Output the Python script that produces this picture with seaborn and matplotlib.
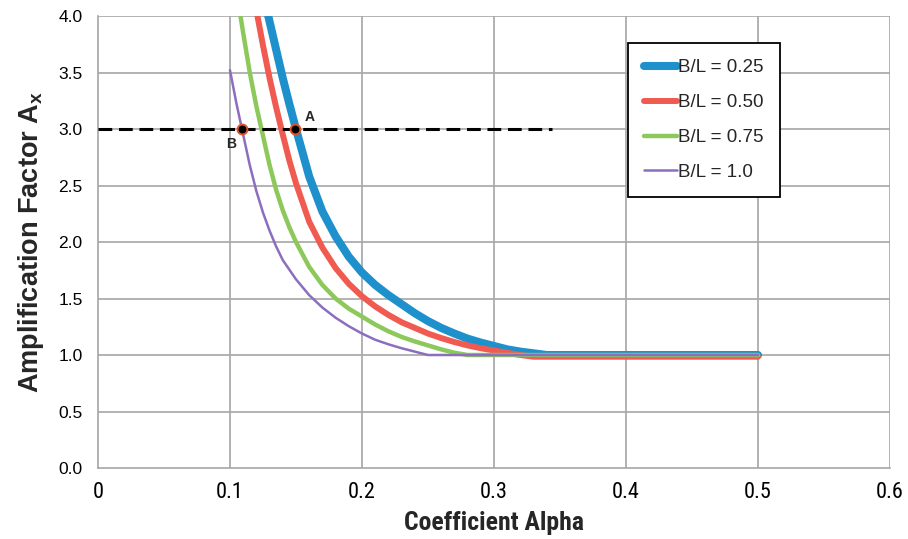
import matplotlib
matplotlib.use("Agg")
import matplotlib.pyplot as plt
import seaborn as sns
import pandas as pd

# Amplification factor vs. coefficient alpha for four B/L ratios
alpha_025 = [0.128, 0.135, 0.140, 0.145, 0.150, 0.160, 0.170, 0.180, 0.190, 0.200,
             0.210, 0.220, 0.230, 0.240, 0.250, 0.260, 0.270, 0.280, 0.290, 0.300,
             0.310, 0.320, 0.330, 0.340, 0.500]
amp_025 = [4.05, 3.70, 3.45, 3.22, 3.00, 2.58, 2.27, 2.05, 1.87, 1.73,
           1.62, 1.53, 1.45, 1.37, 1.30, 1.24, 1.19, 1.145, 1.11, 1.08,
           1.05, 1.03, 1.015, 1.00, 1.00]

alpha_050 = [0.120, 0.125, 0.130, 0.135, 0.140, 0.145, 0.150, 0.160, 0.170, 0.180,
             0.190, 0.200, 0.210, 0.220, 0.230, 0.240, 0.250, 0.260, 0.270, 0.280,
             0.290, 0.300, 0.310, 0.320, 0.330, 0.500]
amp_050 = [4.05, 3.74, 3.45, 3.19, 2.95, 2.72, 2.52, 2.18, 1.95, 1.77,
           1.63, 1.52, 1.43, 1.355, 1.29, 1.24, 1.19, 1.15, 1.115, 1.085,
           1.06, 1.04, 1.02, 1.00, 0.985, 0.985]

alpha_075 = [0.107, 0.110, 0.115, 0.120, 0.125, 0.130, 0.135, 0.140, 0.145, 0.150,
             0.160, 0.170, 0.180, 0.190, 0.200, 0.210, 0.220, 0.230, 0.240, 0.250,
             0.260, 0.270, 0.280, 0.500]
amp_075 = [4.07, 3.85, 3.50, 3.20, 2.94, 2.68, 2.46, 2.28, 2.13, 2.00,
           1.78, 1.62, 1.50, 1.41, 1.34, 1.27, 1.21, 1.16, 1.12, 1.085,
           1.05, 1.02, 1.00, 1.00]

alpha_100 = [0.100, 0.105, 0.110, 0.115, 0.120, 0.125, 0.130, 0.135, 0.140, 0.150,
             0.160, 0.170, 0.180, 0.190, 0.200, 0.210, 0.220, 0.230, 0.240, 0.250,
             0.500]
amp_100 = [3.52, 3.22, 2.95, 2.68, 2.45, 2.26, 2.10, 1.96, 1.84, 1.67,
           1.53, 1.42, 1.33, 1.255, 1.19, 1.135, 1.095, 1.06, 1.03, 1.00,
           1.00]

series_labels = ["B/L = 0.25", "B/L = 0.50", "B/L = 0.75", "B/L = 1.0"]
series_colors = ["#1E90CC", "#F05A50", "#8CC85A", "#8C6EBE"]
series_widths = [5.8, 4.3, 3.2, 1.8]

# Design level and the two read-off points
design_level = 3.0
design_alpha_range = [0.0, 0.344]
point_labels = ["A", "B"]
point_alpha = [0.149, 0.109]

xticks = [0, 0.1, 0.2, 0.3, 0.4, 0.5, 0.6]
xtick_labels = ["0", "0.1", "0.2", "0.3", "0.4", "0.5", "0.6"]
yticks = [0.0, 0.5, 1.0, 1.5, 2.0, 2.5, 3.0, 3.5, 4.0]

sns.set_theme(style="white")
plt.rcParams["font.family"] = ["Liberation Sans", "DejaVu Sans"]
plt.rcParams["mathtext.fontset"] = "custom"
plt.rcParams["mathtext.rm"] = "Liberation Sans"
plt.rcParams["mathtext.bf"] = "Liberation Sans:bold"

narrow = ["Liberation Sans Narrow", "Roboto Condensed", "Liberation Sans"]

fig = plt.figure(figsize=(9.08, 5.39), dpi=100)
ax = fig.add_axes([0.1079, 0.1317, 0.8723, 0.8386])

grid_color = "#A6A6A6"
ax.set_axisbelow(True)
for xv in xticks[1:]:
    ax.axvline(xv, color=grid_color, lw=1.2, zorder=0)
for yv in yticks[1:]:
    ax.axhline(yv, color=grid_color, lw=1.2, zorder=0)

curves = [(alpha_025, amp_025), (alpha_050, amp_050), (alpha_075, amp_075), (alpha_100, amp_100)]
for (xs, ys), lab, col, lw in zip(curves, series_labels, series_colors, series_widths):
    df = pd.DataFrame({"alpha": xs, "amp": ys})
    sns.lineplot(data=df, x="alpha", y="amp", ax=ax, color=col, linewidth=lw,
                 label=lab, solid_capstyle="round", solid_joinstyle="round",
                 zorder=3)

# Dashed design line at A = 3.0
ax.plot(design_alpha_range, [design_level, design_level], color="black", lw=2.2,
        dashes=(4.5, 2.2), zorder=4, label="_nolegend_")

# Intersection markers
ax.scatter(point_alpha, [design_level] * len(point_alpha), s=50, color="black",
           edgecolor="#E0502A", linewidth=1.4, zorder=5)
ax.text(point_alpha[0] + 0.0115, design_level + 0.11, point_labels[0],
        fontsize=10, fontweight="bold", ha="center", va="center", zorder=6)
ax.text(point_alpha[1] - 0.008, design_level - 0.13, point_labels[1],
        fontsize=10, fontweight="bold", ha="center", va="center", zorder=6)

ax.set_xlim(0, 0.6)
ax.set_ylim(0, 4.0)
ax.set_xticks(xticks)
ax.set_xticklabels(xtick_labels, family=narrow, fontsize=16)
ax.set_yticks(yticks)
ax.set_yticklabels([f"{v:.1f}" for v in yticks], fontsize=12.5)

for side in ["top", "right"]:
    ax.spines[side].set_visible(False)
for side in ["left", "bottom"]:
    ax.spines[side].set_color(grid_color)
    ax.spines[side].set_linewidth(1.2)
ax.tick_params(axis="both", which="major", direction="out", length=5, width=1.2,
               color=grid_color, labelcolor="black", pad=6)
ax.tick_params(axis="x", pad=5)

ax.set_xlabel("Coefficient Alpha", fontsize=18.5, fontweight="bold",
              family=narrow, labelpad=6)
ax.set_ylabel(r"Amplification Factor A$_\mathbf{x}$", fontsize=19.5, fontweight="bold",
              labelpad=9)

leg = ax.legend(loc="upper left", bbox_to_anchor=(0.669, 0.94), fontsize=13.5,
                frameon=True, fancybox=False, framealpha=1, edgecolor="black",
                handlelength=1.75, handletextpad=0.1, labelspacing=0.95,
                borderpad=0.85, borderaxespad=0)
leg.get_frame().set_linewidth(1.3)
for line in leg.get_lines():
    line.set_solid_capstyle("round")

fig.savefig("out.png", dpi=100)
